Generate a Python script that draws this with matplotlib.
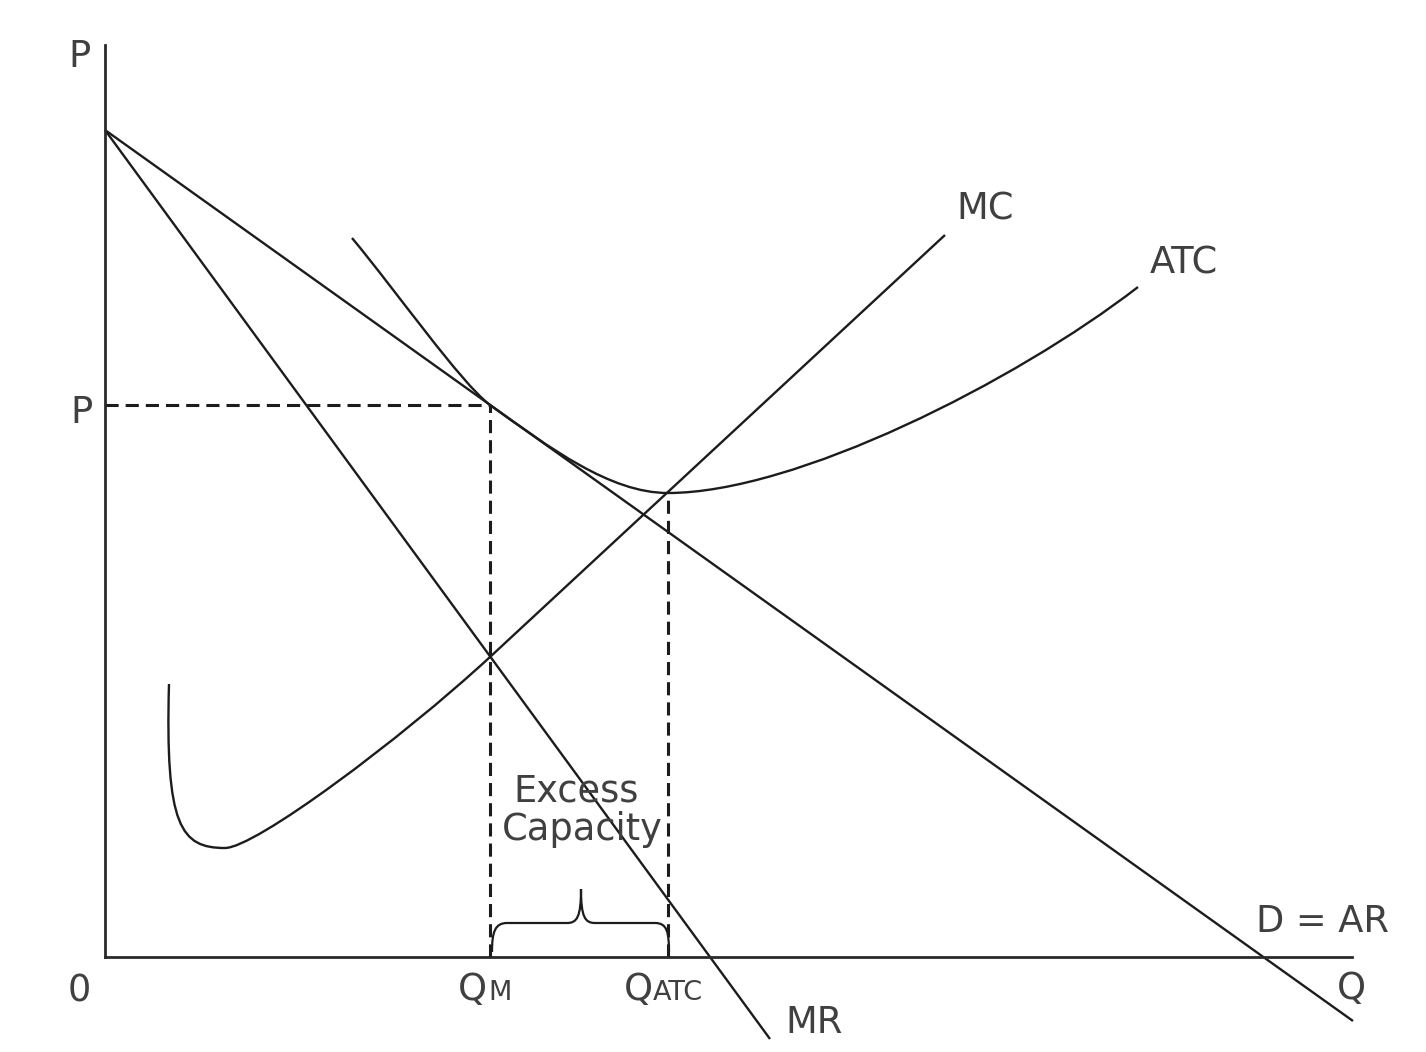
# Monopolistic competition: long-run equilibrium with excess capacity
import matplotlib.pyplot as plt
from matplotlib.path import Path
from matplotlib.patches import PathPatch

# ---- data (Q, P units) ----
# demand D = AR and marginal revenue, straight lines
d_q = [0, 1248]
d_p = [827, -64]
mr_q = [0, 665]
mr_p = [827, -82]

# marginal cost: bezier control points, then a straight run
mc_q = [64, 60, 76, 120, 150, 295, 385, 840]
mc_p = [273, 130, 109, 109, 109, 217, 300, 722]

# average total cost: bezier control points
atc_q = [247, 292, 355, 385, 445, 505, 563, 690, 910, 1033]
atc_p = [719, 665, 575, 552, 509, 464, 464, 464, 575, 670]

# equilibrium levels
p_level = 552
q_m = 385
q_atc = 563
atc_min = 464

# brace under the excess capacity
brace_q = [387, 387, 390, 402, 462, 472, 476, 476, 476, 480, 490, 550, 562, 564, 564]
brace_p = [5, 25, 34, 34, 34, 34, 40, 68, 40, 34, 34, 34, 34, 25, 5]

ink = '#1c1c1c'
txt = '#404040'
plt.rcParams['font.family'] = ['DejaVu Sans']

fig = plt.figure(figsize=(14.26, 10.52), dpi=100)
ax = fig.add_axes([0, 0, 1, 1])
ax.set_xlim(-105, 1321)
ax.set_ylim(-95, 957)

# axes drawn as spines through the origin
for s in ['top', 'right']:
    ax.spines[s].set_visible(False)
ax.spines['left'].set_position(('data', 0))
ax.spines['bottom'].set_position(('data', 0))
ax.spines['left'].set_bounds(0, 912)
ax.spines['bottom'].set_bounds(0, 1247)
for s in ['left', 'bottom']:
    ax.spines[s].set_linewidth(2.0)
    ax.spines[s].set_color('#2a2a2a')
ax.set_xticks([])
ax.set_yticks([])
ax.patch.set_visible(False)

lw = 1.7
ax.plot(d_q, d_p, color=ink, lw=lw, solid_capstyle='butt')
ax.plot(mr_q, mr_p, color=ink, lw=lw, solid_capstyle='butt')

C4 = Path.CURVE4
mc_codes = [Path.MOVETO, C4, C4, C4, C4, C4, C4, Path.LINETO]
ax.add_patch(PathPatch(Path(list(zip(mc_q, mc_p)), mc_codes),
                       fill=False, ec=ink, lw=lw))
atc_codes = [Path.MOVETO] + [C4] * 9
ax.add_patch(PathPatch(Path(list(zip(atc_q, atc_p)), atc_codes),
                       fill=False, ec=ink, lw=lw))

# dashed guide lines
dash = dict(color=ink, lw=2.2, dashes=(4.3, 2.3))
ax.plot([0, q_m], [p_level, p_level], **dash)
ax.plot([q_m, q_m], [0, p_level], **dash)
ax.plot([q_atc, q_atc], [0, atc_min], **dash)

# curly brace
L = Path.LINETO
brace_codes = [Path.MOVETO, C4, C4, C4, L, C4, C4, C4, C4, C4, C4, L, C4, C4, C4]
ax.add_patch(PathPatch(Path(list(zip(brace_q, brace_p)), brace_codes),
                       fill=False, ec=ink, lw=1.6))

# labels
fs = 26.5
sm = 19.5
lab = dict(color=txt, fontsize=fs, va='baseline')
ax.text(-26, 890, 'P', ha='center', **lab)
ax.text(-24, 534, 'P', ha='center', **lab)
ax.text(-26, -45, '0', ha='center', **lab)
ax.text(1246, -42, 'Q', ha='center', **lab)
ax.text(1217, 25, 'D = AR', ha='center', **lab)
ax.text(709, -76, 'MR', ha='center', **lab)
ax.text(880, 737, 'MC', ha='center', **lab)
ax.text(1079, 684, 'ATC', ha='center', **lab)
ax.text(471, 155, 'Excess', ha='center', **lab)
ax.text(477, 117, 'Capacity', ha='center', **lab)

ax.text(382, -43, 'Q', ha='right', **lab)
ax.text(383, -43, 'M', ha='left', color=txt, fontsize=sm, va='baseline')
ax.text(548, -43, 'Q', ha='right', **lab)
ax.text(548, -43, 'ATC', ha='left', color=txt, fontsize=sm, va='baseline')

fig.savefig('out.png', dpi=100, facecolor='white')
